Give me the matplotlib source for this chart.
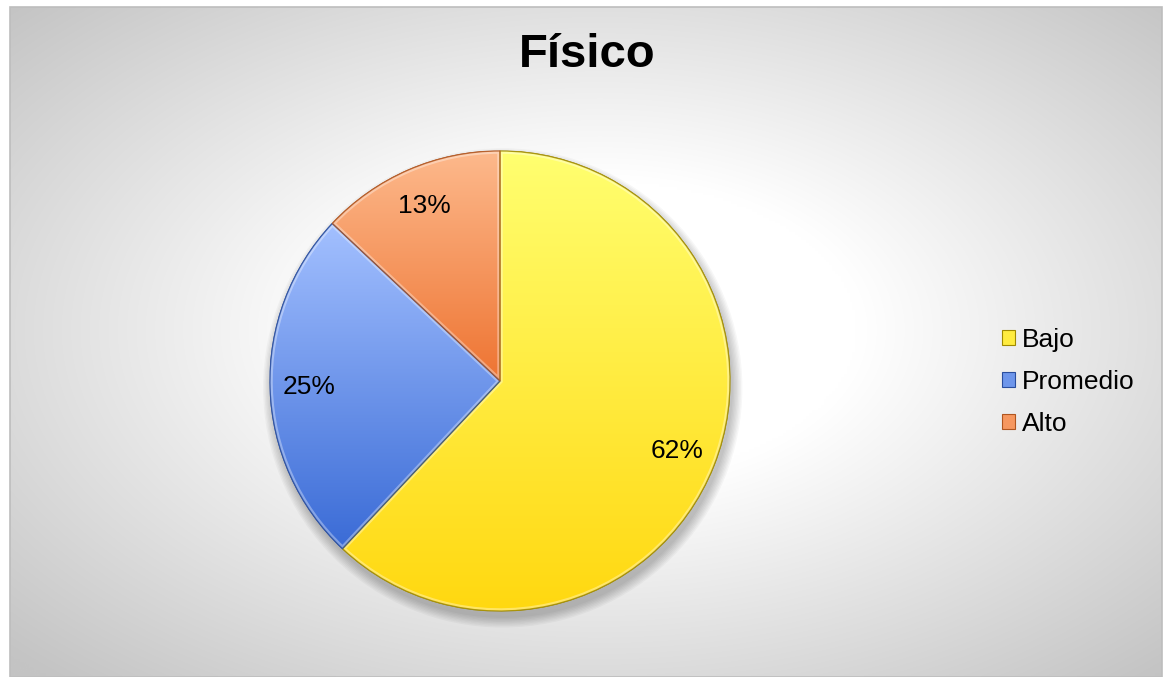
import numpy as np
import matplotlib
matplotlib.use("Agg")
import matplotlib.pyplot as plt
from matplotlib.patches import Rectangle, Circle, Patch, Wedge
from matplotlib.colors import to_rgb

plt.rcParams['font.family'] = ['Liberation Sans', 'DejaVu Sans']

# datos
categorias = ['Bajo', 'Promedio', 'Alto']
porcentajes = [62, 25, 13]
titulo = 'Físico'

# colores (arriba / abajo del degradado de cada porción)
col_top = ['#FFFF70', '#A3C0FF', '#FDB98C']
col_bot = ['#FFD810', '#3A6BD6', '#EE7432']
col_edge = ['#A08A00', '#2A4E9E', '#B0551F']

W, H = 1164, 677
fig = plt.figure(figsize=(W / 100, H / 100), dpi=100)
fig.patch.set_facecolor('white')

# fondo con degradado radial
bg = fig.add_axes([0, 0, 1, 1])
bg.set_xlim(0, W)
bg.set_ylim(H, 0)
bg.axis('off')
x0, x1, y0, y1 = 10, 1162, 7, 677
xx, yy = np.meshgrid(np.linspace(x0, x1, 400), np.linspace(y0, y1, 240))
d = np.sqrt(((xx - 600) / 575) ** 2 + ((yy - 330) / 335) ** 2)
t = np.clip((d - 0.45) / (1.41 - 0.45), 0, 1)
g = 1.0 - t * (255 - 196) / 255
img = np.dstack([g, g, g])
bg.imshow(img, extent=(x0, x1, y1, y0), aspect='auto', interpolation='bilinear', zorder=0)
bg.add_patch(Rectangle((x0, y0), x1 - x0, y1 - y0, fill=False, edgecolor='#bdbdbd', lw=1.2, zorder=1))

# titulo
fig.text(587 / W, 1 - 55 / H, titulo, ha='center', va='center', fontsize=34, fontweight='bold', color='black')

# pastel
cx, cy, r = 500, 381, 230
ax = fig.add_axes([(cx - r) / W, (H - cy - r) / H, 2 * r / W, 2 * r / H])
ax.axis('off')
ax.patch.set_alpha(0)

# sombra suave
for k in range(8):
    ax.add_patch(Circle((0.012, -0.03), 1.0 + 0.006 * k, facecolor='black', alpha=0.03,
                        lw=0, zorder=0, clip_on=False))

wedges, texts, autotexts = ax.pie(porcentajes, startangle=90, counterclock=False,
                                  autopct='%1.0f%%', pctdistance=0.83,
                                  wedgeprops=dict(lw=0.9),
                                  textprops=dict(fontsize=19, color='black'))

for i, w in enumerate(wedges):
    w.set_facecolor(col_bot[i])
    w.set_edgecolor(col_edge[i])
    w.set_zorder(1)
    v = w.get_path().vertices
    ymin, ymax = max(v[:, 1].min(), -1), min(v[:, 1].max(), 1)
    c1 = np.array(to_rgb(col_top[i]))
    c2 = np.array(to_rgb(col_bot[i]))
    s = np.linspace(0, 1, 256)[:, None]
    grad = (c1 * (1 - s) + c2 * s)[:, None, :]
    im = ax.imshow(grad, extent=(-1, 1, ymin, ymax), aspect='auto', zorder=2, interpolation='bilinear')
    im.set_clip_path(w)
    # bisel claro interior
    rim = Wedge(w.center, w.r, w.theta1, w.theta2, fill=False,
                edgecolor='white', alpha=0.35, lw=4, zorder=3)
    ax.add_patch(rim)
    rim.set_clip_path(w)
    edge = Wedge(w.center, w.r, w.theta1, w.theta2, fill=False,
                 edgecolor=col_edge[i], alpha=0.8, lw=0.9, zorder=4)
    ax.add_patch(edge)

for t_ in autotexts:
    t_.set_zorder(5)

ax.set_xlim(-1.0, 1.0)
ax.set_ylim(-1.0, 1.0)

# leyenda
handles = [Patch(facecolor=(np.array(to_rgb(col_top[i])) + np.array(to_rgb(col_bot[i]))) / 2,
                 edgecolor=col_edge[i], lw=0.8) for i in range(3)]
fig.legend(handles, categorias, loc='center left', bbox_to_anchor=(1002 / W, 1 - 382 / H),
           frameon=False, fontsize=19, handlelength=0.5, handleheight=0.5,
           handletextpad=0.25, labelspacing=0.68, borderpad=0, borderaxespad=0)

fig.savefig('out.png', dpi=100, facecolor='white')
